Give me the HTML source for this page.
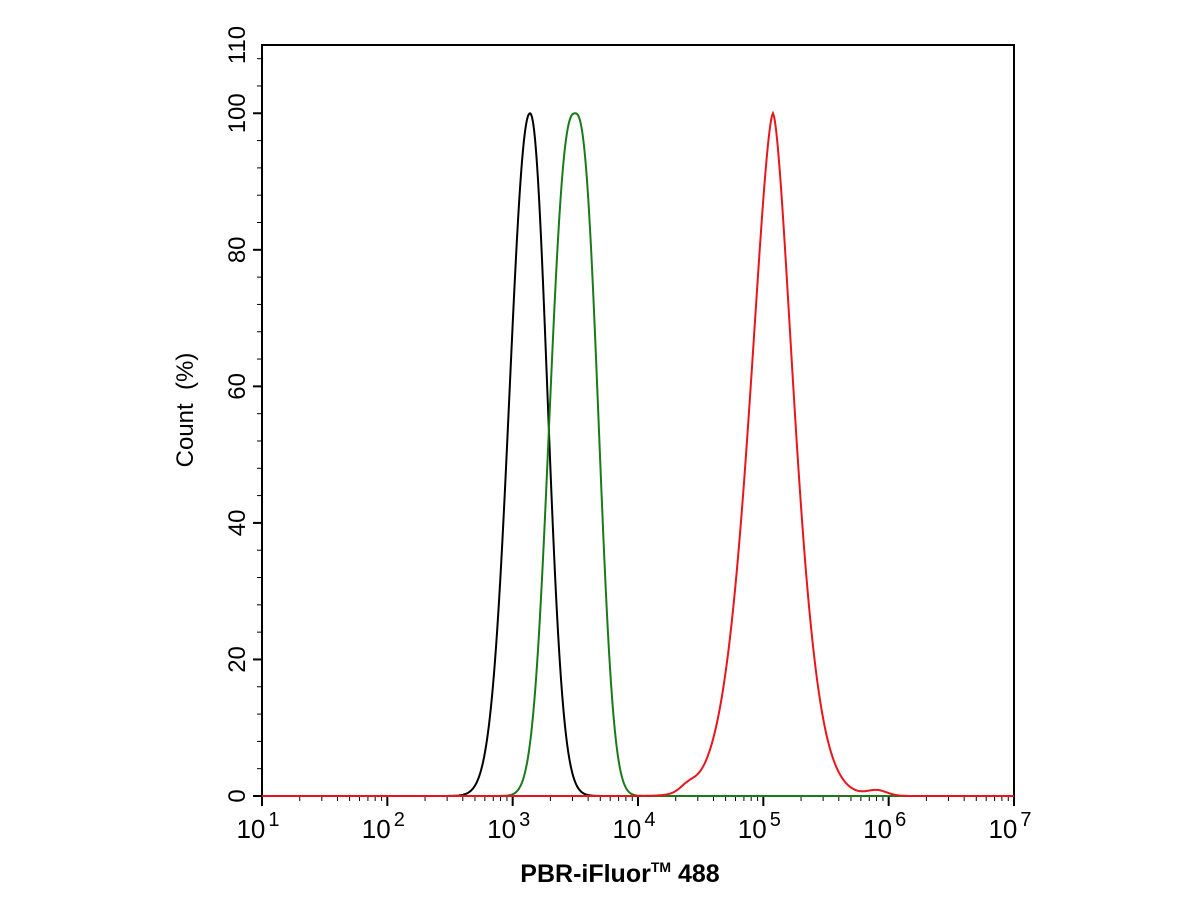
<!DOCTYPE html>
<html><head><meta charset="utf-8"><style>
html,body{margin:0;padding:0;background:#fff;}
svg{display:block;font-family:"Liberation Sans",Arial,sans-serif;}
</style></head><body>
<svg id="s" width="1200" height="900" xmlns="http://www.w3.org/2000/svg">
<rect width="1200" height="900" fill="#fff"/>
<g id="ax"></g>
<path id="k" fill="none" stroke="#000" stroke-width="2"/>
<path id="g" fill="none" stroke="#1a7a1a" stroke-width="2"/>
<path id="r" fill="none" stroke="#e8161b" stroke-width="2"/>
<text x="0" y="0" transform="translate(193,410) rotate(-90)" text-anchor="middle" font-size="24" xml:space="preserve">Count  (%)</text>
<text x="620" y="882" text-anchor="middle" font-size="25" font-weight="bold">PBR-iFluor<tspan font-size="14" dy="-10">TM</tspan><tspan dy="10"> 488</tspan></text>
</svg>
<script>
var L=262,R=1014,T=45,B=796,ky=(B-T)/110,kx=(R-L)/6;
var a='';
a+='<rect x="'+L+'" y="'+T+'" width="'+(R-L)+'" height="'+(B-T)+'" fill="none" stroke="#000" stroke-width="2"/>';
for(var v=0;v<=108;v+=4){var y=B-v*ky;var maj=(v%20==0);a+='<line x1="'+(L-(maj?9:5))+'" y1="'+y+'" x2="'+L+'" y2="'+y+'" stroke="#000" stroke-width="'+(maj?2:1)+'"/>';}
[0,20,40,60,80,100,110].forEach(function(v){var y=B-v*ky;a+='<text transform="translate(245,'+y+') rotate(-90)" text-anchor="middle" font-size="24">'+v+'</text>';});
for(var d=0;d<6;d++){for(var m=2;m<=9;m++){var x=L+(d+Math.log10(m))*kx;a+='<line x1="'+x+'" y1="'+B+'" x2="'+x+'" y2="'+(B+5)+'" stroke="#000" stroke-width="1"/>';}}
for(var d=0;d<=6;d++){var x=L+d*kx;a+='<line x1="'+x+'" y1="'+B+'" x2="'+x+'" y2="'+(B+10)+'" stroke="#000" stroke-width="2"/>';
a+='<text x="'+(x-4)+'" y="'+(B+42)+'" text-anchor="middle" font-size="26">10<tspan font-size="20" dy="-12" dx="3">'+(d+1)+'</tspan></text>';}
document.getElementById('ax').innerHTML=a;
function curve(id,f){var p='';for(var x=L;x<=R;x+=1){var y=B-Math.min(100,f(x))*ky;p+=(p?'L':'M')+x+' '+y.toFixed(1);}document.getElementById(id).setAttribute('d',p);}
function gg(x,c,sl,sr,e){var s=x<c?sl:sr;return 100*Math.exp(-Math.pow(Math.abs(x-c)/s,e)/2);}
curve('k',function(x){return gg(x,530,20,17,2.1);});
curve('g',function(x){return gg(x,575,24,22,2.6);});
curve('r',function(x){return gg(x,773,22,20,1.6)+0.8*Math.exp(-Math.pow((x-877)/10,2)/2)+0.9*Math.exp(-Math.pow((x-688)/8,2)/2);});
</script>
</body></html>
